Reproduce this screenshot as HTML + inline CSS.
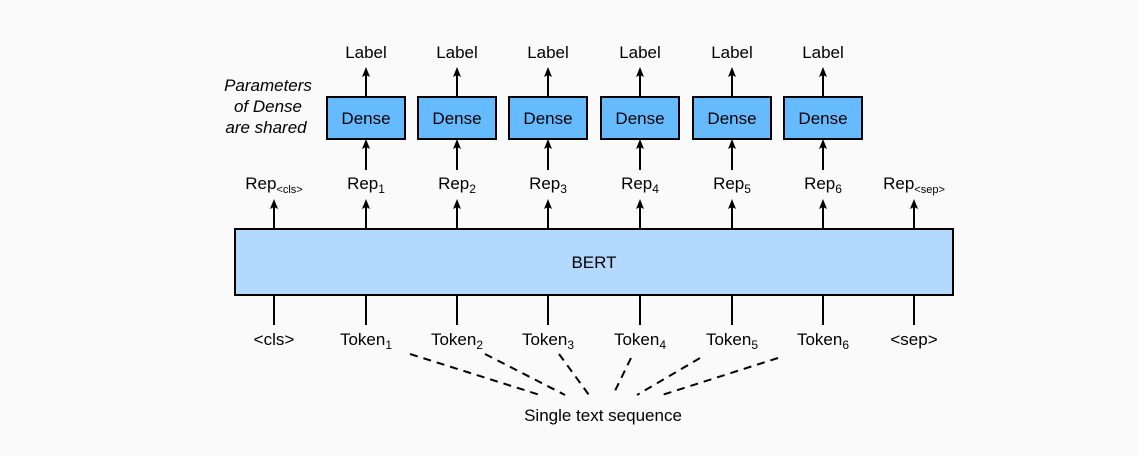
<!DOCTYPE html><html><head><style>body{margin:0;background:#fafafa}</style></head><body>
<svg width="1138" height="451" xmlns="http://www.w3.org/2000/svg" font-family="Liberation Sans, sans-serif" font-size="17">
<rect width="1138" height="451" fill="#fafafa"/>
<rect x="235" y="229" width="718" height="66" fill="#b3d9ff" stroke="#000" stroke-width="2"/>
<text x="594" y="268" text-anchor="middle">BERT</text>
<g stroke="#000" stroke-width="2">
<line x1="274" y1="295" x2="274" y2="325"/><line x1="366" y1="295" x2="366" y2="325"/><line x1="457" y1="295" x2="457" y2="325"/><line x1="548" y1="295" x2="548" y2="325"/><line x1="640" y1="295" x2="640" y2="325"/><line x1="732" y1="295" x2="732" y2="325"/><line x1="823" y1="295" x2="823" y2="325"/><line x1="914" y1="295" x2="914" y2="325"/>
<line x1="274" y1="229" x2="274" y2="206"/><line x1="366" y1="229" x2="366" y2="206"/><line x1="457" y1="229" x2="457" y2="206"/><line x1="548" y1="229" x2="548" y2="206"/><line x1="640" y1="229" x2="640" y2="206"/><line x1="732" y1="229" x2="732" y2="206"/><line x1="823" y1="229" x2="823" y2="206"/><line x1="914" y1="229" x2="914" y2="206"/>
<line x1="366" y1="170" x2="366" y2="146"/><line x1="457" y1="170" x2="457" y2="146"/><line x1="548" y1="170" x2="548" y2="146"/><line x1="640" y1="170" x2="640" y2="146"/><line x1="732" y1="170" x2="732" y2="146"/><line x1="823" y1="170" x2="823" y2="146"/>
<line x1="366" y1="97" x2="366" y2="74"/><line x1="457" y1="97" x2="457" y2="74"/><line x1="548" y1="97" x2="548" y2="74"/><line x1="640" y1="97" x2="640" y2="74"/><line x1="732" y1="97" x2="732" y2="74"/><line x1="823" y1="97" x2="823" y2="74"/>
<g stroke-dasharray="8,6">
<line x1="410" y1="354" x2="540" y2="395"/><line x1="485" y1="354" x2="565" y2="395"/><line x1="559" y1="354" x2="589" y2="395"/><line x1="631" y1="358" x2="613" y2="395"/><line x1="700" y1="358" x2="637" y2="395"/><line x1="778" y1="358" x2="662" y2="395"/>
</g>
</g>
<g fill="#000">
<path d="M274,199 l-4,10 l4,-2 l4,2z M366,199 l-4,10 l4,-2 l4,2z M457,199 l-4,10 l4,-2 l4,2z M548,199 l-4,10 l4,-2 l4,2z M640,199 l-4,10 l4,-2 l4,2z M732,199 l-4,10 l4,-2 l4,2z M823,199 l-4,10 l4,-2 l4,2z M914,199 l-4,10 l4,-2 l4,2z"/>
<path d="M366,139 l-4,10 l4,-2 l4,2z M457,139 l-4,10 l4,-2 l4,2z M548,139 l-4,10 l4,-2 l4,2z M640,139 l-4,10 l4,-2 l4,2z M732,139 l-4,10 l4,-2 l4,2z M823,139 l-4,10 l4,-2 l4,2z"/>
<path d="M366,67 l-4,10 l4,-2 l4,2z M457,67 l-4,10 l4,-2 l4,2z M548,67 l-4,10 l4,-2 l4,2z M640,67 l-4,10 l4,-2 l4,2z M732,67 l-4,10 l4,-2 l4,2z M823,67 l-4,10 l4,-2 l4,2z"/>
</g>
<g fill="#66bbff" stroke="#000" stroke-width="2">
<rect x="327" y="97" width="78" height="42"/><rect x="418" y="97" width="78" height="42"/><rect x="509" y="97" width="78" height="42"/><rect x="601" y="97" width="78" height="42"/><rect x="693" y="97" width="78" height="42"/><rect x="784" y="97" width="78" height="42"/>
</g>
<g text-anchor="middle">
<text x="366" y="124">Dense</text><text x="457" y="124">Dense</text><text x="548" y="124">Dense</text><text x="640" y="124">Dense</text><text x="732" y="124">Dense</text><text x="823" y="124">Dense</text>
<text x="366" y="58">Label</text><text x="457" y="58">Label</text><text x="548" y="58">Label</text><text x="640" y="58">Label</text><text x="732" y="58">Label</text><text x="823" y="58">Label</text>
<text x="274" y="189">Rep<tspan font-size="11" dy="4">&lt;cls&gt;</tspan></text>
<text x="366" y="189">Rep<tspan font-size="12" dy="4">1</tspan></text>
<text x="457" y="189">Rep<tspan font-size="12" dy="4">2</tspan></text>
<text x="548" y="189">Rep<tspan font-size="12" dy="4">3</tspan></text>
<text x="640" y="189">Rep<tspan font-size="12" dy="4">4</tspan></text>
<text x="732" y="189">Rep<tspan font-size="12" dy="4">5</tspan></text>
<text x="823" y="189">Rep<tspan font-size="12" dy="4">6</tspan></text>
<text x="914" y="189">Rep<tspan font-size="11" dy="4">&lt;sep&gt;</tspan></text>
<text x="274" y="345">&lt;cls&gt;</text>
<text x="366" y="345">Token<tspan font-size="12" dy="4">1</tspan></text>
<text x="457" y="345">Token<tspan font-size="12" dy="4">2</tspan></text>
<text x="548" y="345">Token<tspan font-size="12" dy="4">3</tspan></text>
<text x="640" y="345">Token<tspan font-size="12" dy="4">4</tspan></text>
<text x="732" y="345">Token<tspan font-size="12" dy="4">5</tspan></text>
<text x="823" y="345">Token<tspan font-size="12" dy="4">6</tspan></text>
<text x="914" y="345">&lt;sep&gt;</text>
<text x="603" y="421">Single text sequence</text>
<g font-style="italic"><text x="268" y="91">Parameters</text><text x="268" y="112">of Dense</text><text x="266" y="133">are shared</text></g>
</g>
</svg>
</body></html>
